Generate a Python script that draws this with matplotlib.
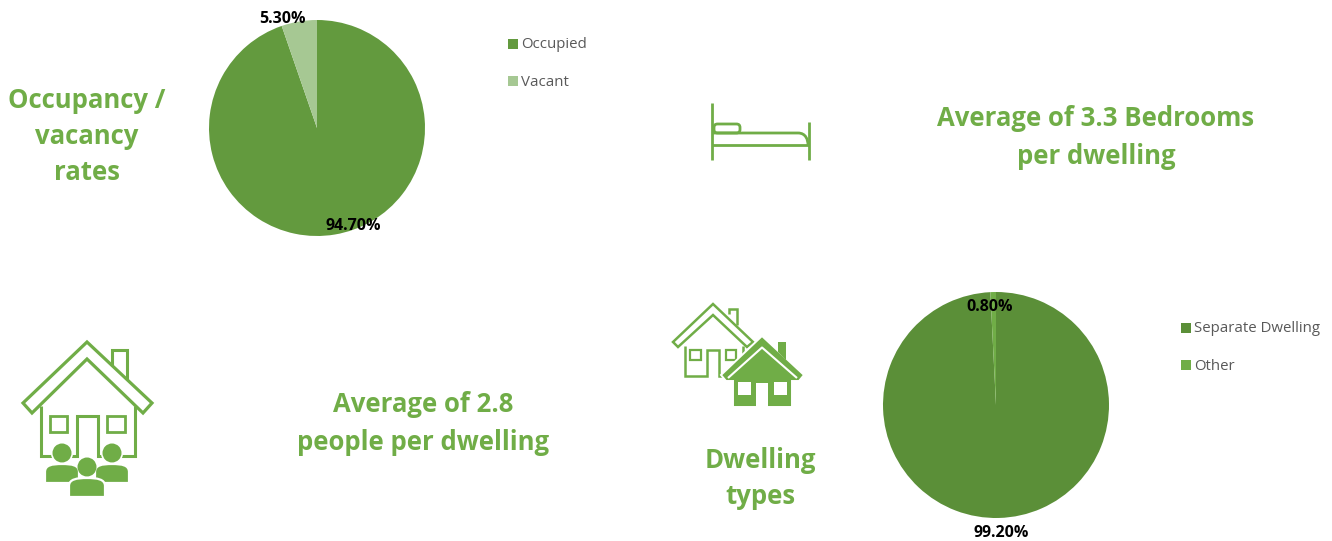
import matplotlib
matplotlib.use("Agg")
import matplotlib.pyplot as plt
from matplotlib.patches import Polygon, Rectangle, Circle, FancyBboxPatch, PathPatch
from matplotlib.path import Path

plt.rcParams['font.family'] = ['Open Sans', 'DejaVu Sans']

W, H = 1332, 541

occupancy_labels = ['Occupied', 'Vacant']
occupancy_values = [94.70, 5.30]
dwelling_labels = ['Separate Dwelling', 'Other']
dwelling_values = [99.20, 0.80]

GREEN = '#70AD47'
OCC_COLORS = ['#639A3E', '#A6C893']
DWL_COLORS = ['#5B8F38', '#70AD47']

fig = plt.figure(figsize=(W / 100, H / 100), dpi=100, facecolor='white')


def pie_axes(cx, cy, r):
    return fig.add_axes([(cx - r) / W, 1 - (cy + r) / H, 2 * r / W, 2 * r / H])


def draw_pie(cx, cy, r, values, colors):
    ax = pie_axes(cx, cy, r)
    ax.pie(values, colors=colors, startangle=90, counterclock=False, radius=1,
           wedgeprops=dict(linewidth=0))
    ax.set_xlim(-1, 1)
    ax.set_ylim(-1, 1)
    ax.set_aspect('equal')
    ax.axis('off')


draw_pie(317, 128, 108, occupancy_values, OCC_COLORS)
draw_pie(996, 405, 113, dwelling_values, DWL_COLORS)

# Overlay in pixel units for captions, legends and pictograms
ov = fig.add_axes([0, 0, 1, 1], zorder=5)
ov.set_xlim(0, W)
ov.set_ylim(H, 0)
ov.axis('off')


def caption(x, y, s):
    ov.text(x, y, s, color=GREEN, fontsize=18.5, fontweight='bold',
            ha='center', va='center', linespacing=1.0)


caption(87, 101, 'Occupancy /')
caption(87, 137, 'vacancy')
caption(87, 172, 'rates')
caption(1096, 118, 'Average of 3.3 Bedrooms')
caption(1096, 156, 'per dwelling')
caption(423, 404, 'Average of 2.8')
caption(423, 443, 'people per dwelling')
caption(760, 460, 'Dwelling')
caption(760, 496, 'types')


def pct(x, y, v):
    ov.text(x, y, f'{v:.2f}%', color='black', fontsize=11.5, fontweight='bold',
            ha='center', va='center')


pct(353, 226, occupancy_values[0])
pct(282, 19, occupancy_values[1])
pct(1001, 533, dwelling_values[0])
pct(990, 307, dwelling_values[1])


def legend(x, ys, labels, colors):
    for y, lab, col in zip(ys, labels, colors):
        ov.add_patch(Rectangle((x, y - 5), 10, 10, color=col, lw=0))
        ov.text(x + 13, y + 1, lab, color='#595959', fontsize=10.8, va='center', ha='left')


legend(508, [44, 81], occupancy_labels, OCC_COLORS)
legend(1181, [328, 365], dwelling_labels, DWL_COLORS)


def outline(pts, lw=2.2, closed=True):
    ov.add_patch(Polygon(pts, closed=closed, fill=False, ec=GREEN, lw=lw, joinstyle='miter'))


def solid(pts, col=GREEN):
    ov.add_patch(Polygon(pts, closed=True, fc=col, ec='none'))


def box(x0, y0, x1, y1, lw=2.0):
    outline([(x0, y0), (x1, y0), (x1, y1), (x0, y1)], lw=lw)


# House with three residents
outline([(87, 342), (23, 403), (32, 413), (87, 359), (143, 413), (152, 403)], lw=2.3)
outline([(112, 366), (112, 350), (127, 350), (127, 379)], closed=False)
outline([(41, 406), (41, 456), (77, 456), (77, 416), (98, 416), (98, 456), (135, 456), (135, 406)],
        closed=False)
box(50, 416, 67, 432)
box(107, 416, 125, 432)


def person(cx, head_y, top, bottom, half, head_r):
    ov.add_patch(Circle((cx, head_y), head_r + 1.6, fc='white', ec='none', zorder=3))
    ov.add_patch(Circle((cx, head_y), head_r, fc=GREEN, ec='none', zorder=4))
    verts = [(cx - half, bottom), (cx - half, top + 8),
             (cx - half, top + 1), (cx - 10, top), (cx, top),
             (cx + 10, top), (cx + half, top + 1), (cx + half, top + 8),
             (cx + half, bottom), (cx - half, bottom)]
    codes = [Path.MOVETO, Path.LINETO, Path.CURVE4, Path.CURVE4, Path.CURVE4,
             Path.CURVE4, Path.CURVE4, Path.CURVE4, Path.LINETO, Path.CLOSEPOLY]
    return PathPatch(Path(verts, codes), fc=GREEN, ec='white', lw=1.6, zorder=4)


ov.add_patch(person(62, 453, 464, 483, 17, 9.5))
ov.add_patch(person(112, 453, 464, 483, 17, 9.5))
ov.add_patch(person(87, 467, 478, 497, 18, 9.5))

# Outlined house behind the filled one
outline([(713, 304), (673, 342), (678, 347), (713, 315), (747, 347), (753, 342)], lw=1.8)
outline([(729, 314), (729, 309), (737, 309), (737, 325)], lw=1.8, closed=False)
outline([(685, 346), (685, 376), (707, 376), (707, 350), (719, 350), (719, 376), (743, 376), (743, 346)],
        lw=1.8, closed=False)
box(690, 350, 701, 360, lw=1.6)
box(726, 350, 736, 360, lw=1.6)

# Filled house in front, with a white halo where it overlaps the outlined one
ov.add_patch(Polygon([(762, 336), (721, 375), (726, 381), (733, 381), (733, 407), (792, 407),
                      (792, 381), (799, 381), (804, 375)],
                     closed=True, fc=GREEN, ec='white', lw=1.4))
solid([(778, 352), (778, 342), (786, 342), (786, 360)])
ov.plot([728, 762, 797], [378, 347.5, 378], color='white', lw=1.5, solid_capstyle='butt')
ov.add_patch(Rectangle((738, 382), 13, 13, fc='white', ec='none'))
ov.add_patch(Rectangle((774, 382), 13, 13, fc='white', ec='none'))
ov.add_patch(Rectangle((756, 383), 12, 24, fc='white', ec='none'))

# Bed
ov.plot([712, 712], [103, 160], color=GREEN, lw=2.0, solid_capstyle='butt')
ov.plot([809, 809], [122, 160], color=GREEN, lw=2.0, solid_capstyle='butt')
ov.plot([712, 809], [145, 145], color=GREEN, lw=2.0, solid_capstyle='butt')
bed_top = Path([(712, 133), (798, 133), (806, 133), (808, 140), (808, 145)],
               [Path.MOVETO, Path.LINETO, Path.CURVE4, Path.CURVE4, Path.CURVE4])
ov.add_patch(PathPatch(bed_top, fill=False, ec=GREEN, lw=2.0))
ov.add_patch(FancyBboxPatch((714, 124), 26, 9, boxstyle='round,pad=0,rounding_size=3.5',
                            fill=False, ec=GREEN, lw=2.0))

fig.savefig('out.png', dpi=100, facecolor='white')
